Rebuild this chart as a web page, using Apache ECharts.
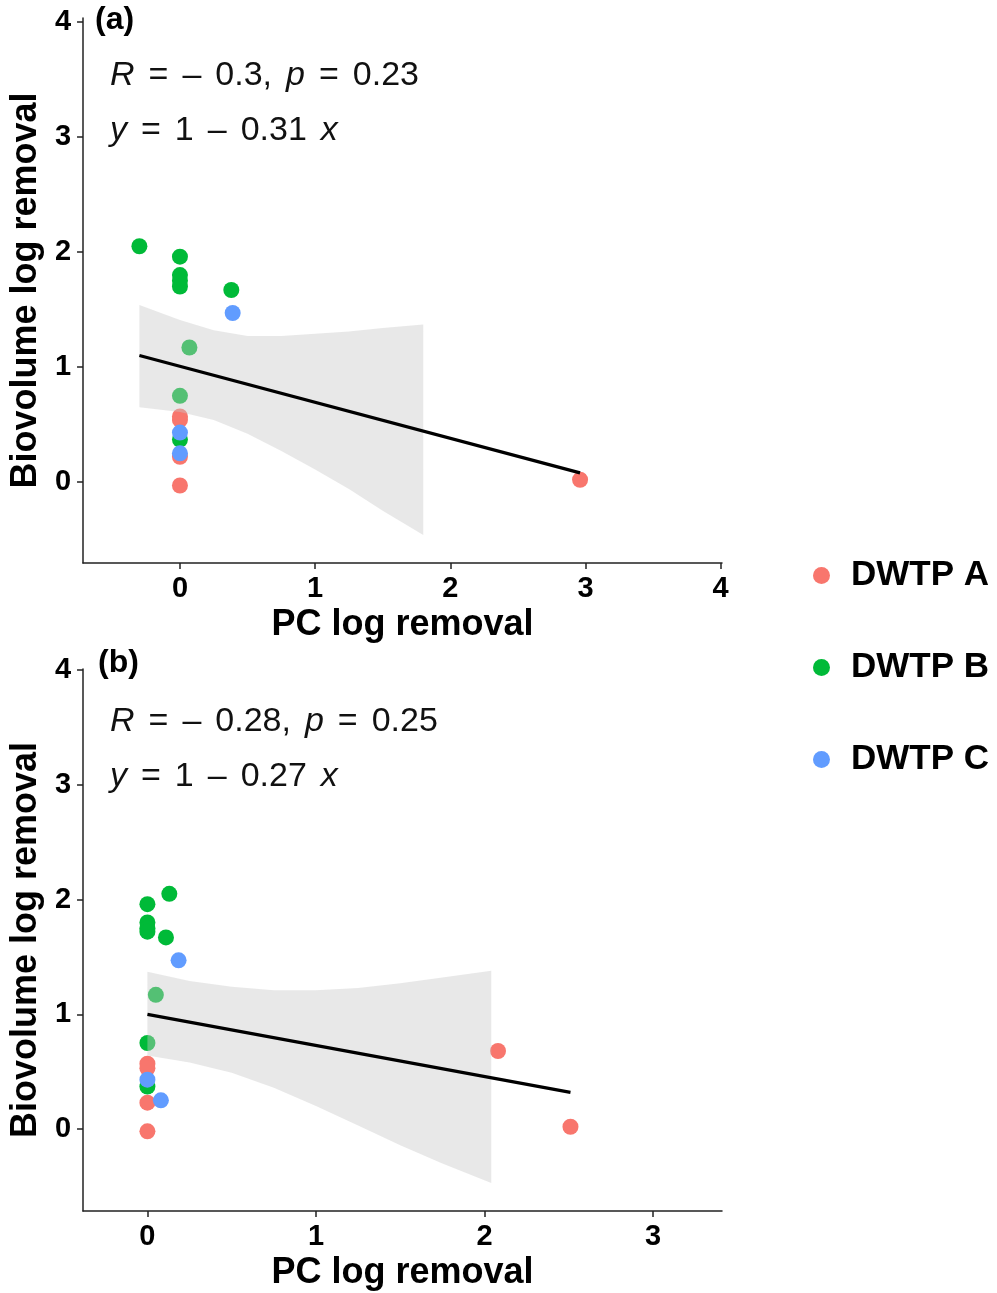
<!DOCTYPE html>
<html>
<head>
<meta charset="utf-8">
<script src="https://cdn.jsdelivr.net/npm/echarts@6/dist/echarts.min.js"></script>
<style>html,body{margin:0;padding:0;background:#fff}#c{width:997px;height:1293px}</style>
</head>
<body>
<div id="c"></div>
<script>
// ---- Data ----
const groups = ['DWTP A', 'DWTP B', 'DWTP C'];
const colors = ['#F8766D', '#00BA38', '#619CFF'];
const tickValuesXa = [0, 1, 2, 3, 4];
const tickValuesXb = [0, 1, 2, 3];
const tickValuesY = [0, 1, 2, 3, 4];

// Panel (a): PC log removal (x) vs Biovolume log removal (y)
const aX_A = [0, 0, 0, 0, 2.96];
const aY_A = [0.57, 0.54, 0.22, -0.03, 0.02];
const aX_B = [-0.30, 0, 0, 0, 0, 0.38, 0.07, 0, 0];
const aY_B = [2.05, 1.96, 1.80, 1.75, 1.70, 1.67, 1.17, 0.75, 0.37];
const aX_C = [0.39, 0, 0];
const aY_C = [1.47, 0.43, 0.25];
const aFitX = [-0.30, 2.96];
const aFitY = [1.10, 0.08];
const aBandX = [-0.30, 0, 0.25, 0.5, 0.75, 1.0, 1.25, 1.5, 1.8];
const aBandHi = [1.54, 1.41, 1.32, 1.27, 1.27, 1.29, 1.31, 1.34, 1.37];
const aBandLo = [0.65, 0.61, 0.54, 0.42, 0.27, 0.11, -0.06, -0.25, -0.46];

// Panel (b)
const bX_A = [0, 0, 0, 0, 2.08, 2.51];
const bY_A = [0.57, 0.53, 0.23, -0.02, 0.68, 0.02];
const bX_B = [0.13, 0, 0, 0, 0, 0.11, 0.05, 0, 0];
const bY_B = [2.05, 1.96, 1.80, 1.75, 1.72, 1.67, 1.17, 0.75, 0.37];
const bX_C = [0.185, 0, 0.08];
const bY_C = [1.47, 0.43, 0.25];
const bFitX = [0, 2.51];
const bFitY = [1.00, 0.32];
const bBandX = [0, 0.25, 0.5, 0.75, 1.0, 1.25, 1.5, 1.75, 2.04];
const bBandHi = [1.37, 1.29, 1.24, 1.21, 1.21, 1.23, 1.27, 1.32, 1.38];
const bBandLo = [0.64, 0.58, 0.49, 0.36, 0.20, 0.03, -0.14, -0.30, -0.47];

// '{s| }' marks a plotmath-style gap
const statsA = ['{i|R}{s| }={s| }–{s| }0.3,{s| }{i|p}{s| }={s| }0.23', '{i|y}{s| }={s| }1{s| }–{s| }0.31{s| }{i|x}'];
const statsB = ['{i|R}{s| }={s| }–{s| }0.28,{s| }{i|p}{s| }={s| }0.25', '{i|y}{s| }={s| }1{s| }–{s| }0.27{s| }{i|x}'];

// ---- Chart ----
const FONT = "'Liberation Sans', Arial, Helvetica, sans-serif";
const zip = (xs, ys) => xs.map((x, i) => [x, ys[i]]);

function xAxisCfg(idx, min, max, ticks) {
  return {
    type: 'value', gridIndex: idx, min: min, max: max,
    name: 'PC log removal', nameLocation: 'middle', nameGap: 44,
    nameTextStyle: {fontFamily: FONT, fontSize: 36, fontWeight: 'bold', color: '#000'},
    axisLine: {show: true, onZero: false, lineStyle: {color: '#222', width: 1.5}},
    axisTick: {show: true, length: 6, lineStyle: {color: '#222', width: 1.5}, customValues: ticks},
    axisLabel: {fontFamily: FONT, fontSize: 29, fontWeight: 'bold', color: '#000', margin: 11, customValues: ticks},
    splitLine: {show: false}
  };
}
function yAxisCfg(idx, min, max) {
  return {
    type: 'value', gridIndex: idx, min: min, max: max,
    name: 'Biovolume log removal', nameLocation: 'middle', nameGap: 36,
    nameTextStyle: {fontFamily: FONT, fontSize: 36, fontWeight: 'bold', color: '#000'},
    axisLine: {show: true, onZero: false, lineStyle: {color: '#222', width: 1.5}},
    axisTick: {show: true, length: 6, lineStyle: {color: '#222', width: 1.5}, customValues: tickValuesY},
    axisLabel: {fontFamily: FONT, fontSize: 29, fontWeight: 'bold', color: '#000', margin: 12, customValues: tickValuesY},
    splitLine: {show: false}
  };
}

function bandSeries(idx, xs, lo, hi) {
  return {
    type: 'custom', xAxisIndex: idx, yAxisIndex: idx, z: 5, silent: true,
    data: xs.map((x, i) => [x, lo[i], hi[i]]),
    encode: {x: 0, y: [1, 2]},
    renderItem: function (params, api) {
      if (params.dataIndex !== 0) return null;
      const pts = [];
      for (let i = 0; i < xs.length; i++) pts.push(api.coord([xs[i], hi[i]]));
      for (let i = xs.length - 1; i >= 0; i--) pts.push(api.coord([xs[i], lo[i]]));
      return {type: 'polygon', shape: {points: pts}, style: {fill: 'rgba(200,200,200,0.42)'}};
    }
  };
}
function scatterSeries(idx, g, xs, ys) {
  return {
    type: 'scatter', name: groups[g], xAxisIndex: idx, yAxisIndex: idx, z: 2 + g * 0.1,
    symbolSize: 16, itemStyle: {color: colors[g], opacity: 1},
    data: zip(xs, ys)
  };
}
function fitSeries(idx, xs, ys) {
  return {
    type: 'line', xAxisIndex: idx, yAxisIndex: idx, z: 8, silent: true,
    symbol: 'none', lineStyle: {color: '#000', width: 3.2},
    data: zip(xs, ys)
  };
}

function statText(lines, top) {
  return lines.map((t, i) => ({
    type: 'text', left: 110, top: top + i * 55,
    style: {
      text: t, fontFamily: FONT, fontSize: 34, fill: '#111',
      rich: {
        i: {fontStyle: 'italic', fontFamily: FONT, fontSize: 34, fill: '#111'},
        s: {fontFamily: FONT, fontSize: 34, width: 14}
      }
    }
  }));
}

const chart = echarts.init(document.getElementById('c'), null, {renderer: 'canvas'});
chart.setOption({
  backgroundColor: '#fff',
  animation: false,
  grid: [
    {left: 82, top: 18, width: 640, height: 545},
    {left: 82, top: 669, width: 640, height: 542}
  ],
  xAxis: [xAxisCfg(0, -0.717, 4.01, tickValuesXa), xAxisCfg(1, -0.382, 3.409, tickValuesXb)],
  yAxis: [yAxisCfg(0, -0.704, 4.035), yAxisCfg(1, -0.714, 4.009)],
  legend: {
    data: groups, orient: 'vertical', left: 808, top: 552,
    icon: 'circle', itemWidth: 17, itemHeight: 17, itemGap: 55,
    textStyle: {fontFamily: FONT, fontSize: 35, fontWeight: 'bold', color: '#000', lineHeight: 37, padding: [0, 0, 0, 16]},
    selectedMode: false
  },
  graphic: [
    {type: 'text', left: 95, top: 4, style: {text: '(a)', fontFamily: FONT, fontSize: 32, fontWeight: 'bold', fill: '#000'}},
    {type: 'text', left: 98, top: 647, style: {text: '(b)', fontFamily: FONT, fontSize: 32, fontWeight: 'bold', fill: '#000'}}
  ].concat(statText(statsA, 59)).concat(statText(statsB, 705)),
  series: [
    scatterSeries(0, 0, aX_A, aY_A), scatterSeries(0, 1, aX_B, aY_B), scatterSeries(0, 2, aX_C, aY_C),
    bandSeries(0, aBandX, aBandLo, aBandHi), fitSeries(0, aFitX, aFitY),
    scatterSeries(1, 0, bX_A, bY_A), scatterSeries(1, 1, bX_B, bY_B), scatterSeries(1, 2, bX_C, bY_C),
    bandSeries(1, bBandX, bBandLo, bBandHi), fitSeries(1, bFitX, bFitY)
  ]
});
</script>
</body>
</html>
